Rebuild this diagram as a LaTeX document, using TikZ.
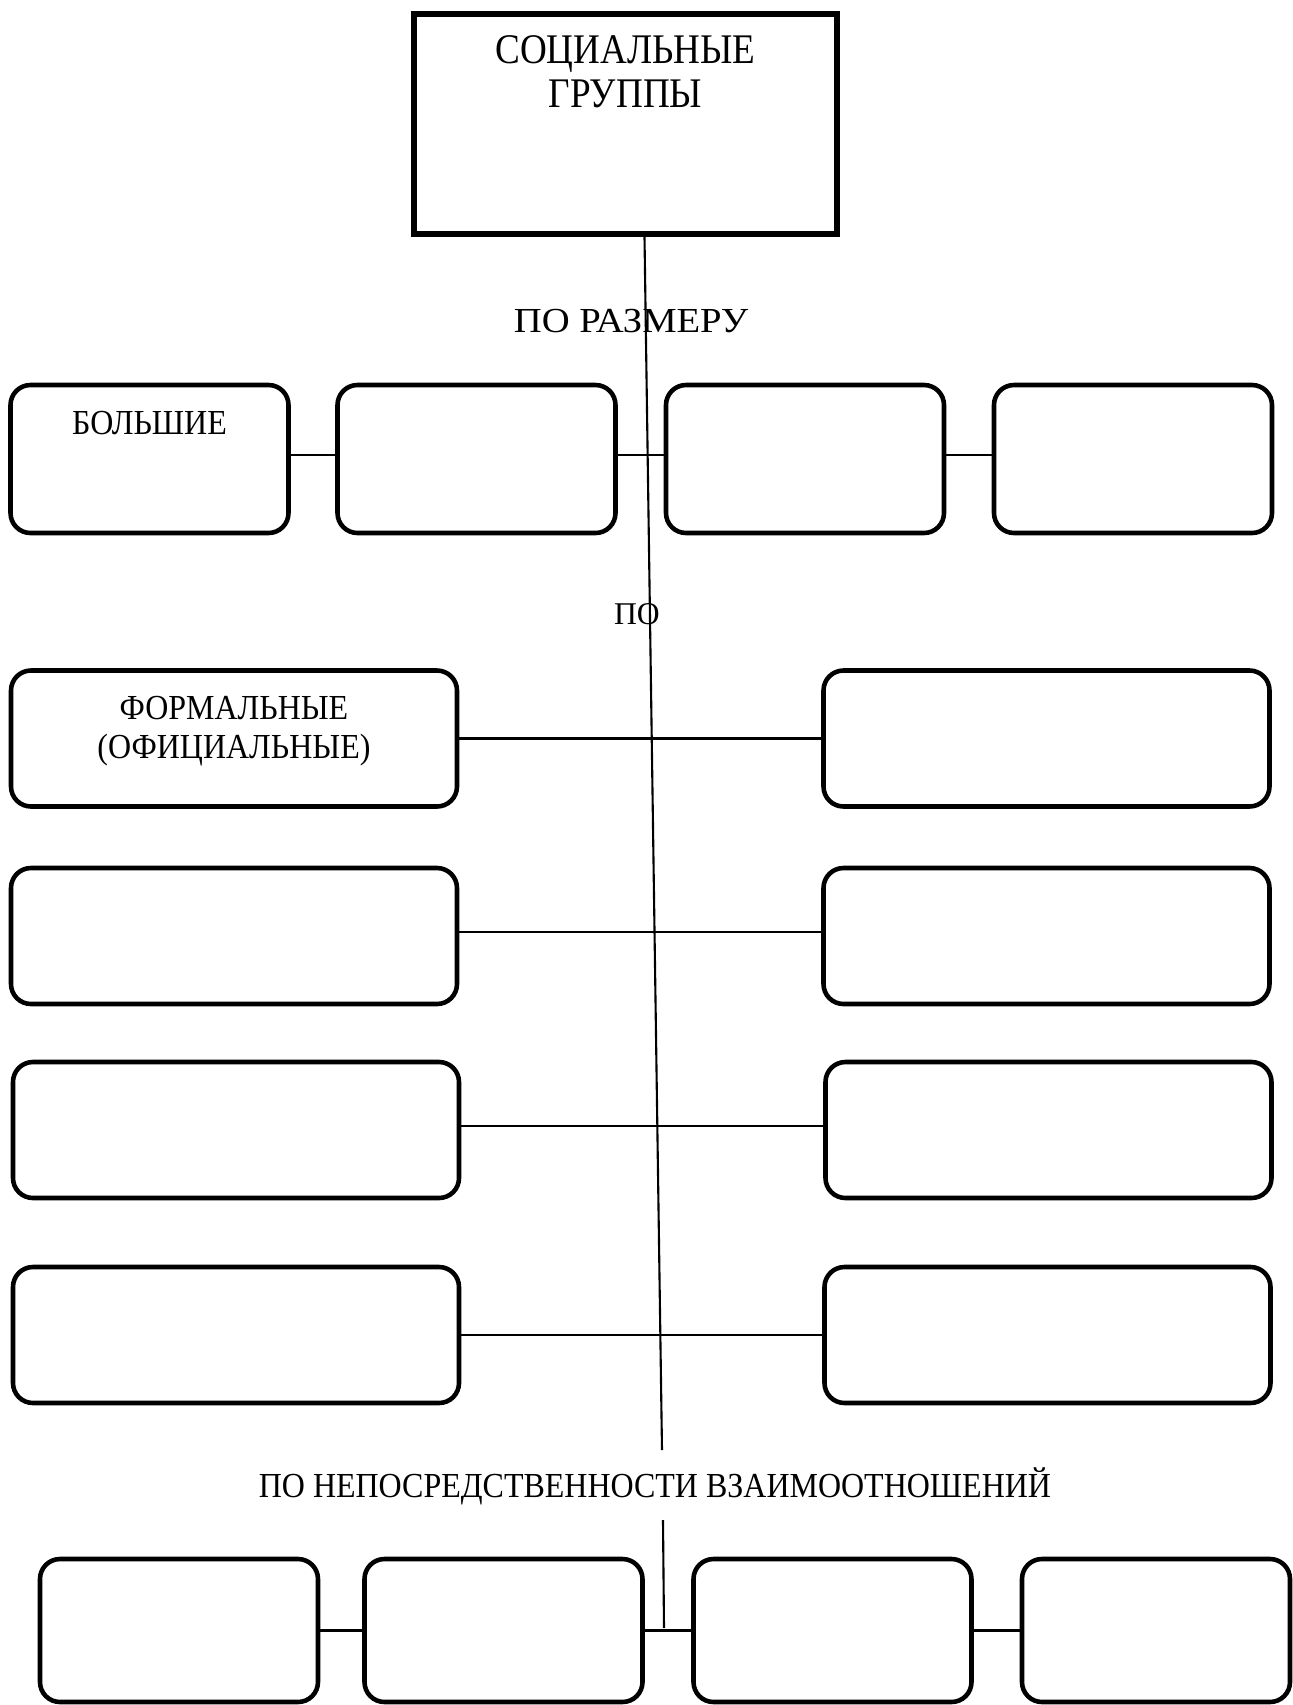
\documentclass[tikz,border=0pt]{standalone}
\usepackage{fontspec}
\setmainfont{Liberation Serif}
\newfontfamily\titlefont{Liberation Serif}[FakeStretch=0.88]
\newfontfamily\narrowfont{Liberation Serif}[FakeStretch=0.91]
\newfontfamily\widefont{Liberation Serif}[FakeStretch=1.1]
\tikzset{
  grp/.style={draw, line width=1.3pt, rounded corners=0.2cm, inner sep=0pt},
  sizebox/.style={grp, minimum width=2.78cm, minimum height=1.48cm},
  wide/.style={grp, minimum width=4.46cm, minimum height=1.36cm},
  lowbox/.style={grp, minimum width=2.78cm, minimum height=1.43cm},
  lbl/.style={inner sep=0pt, align=center, font=\narrowfont\fontsize{10}{11.1}\selectfont},
  link/.style={line width=0.6pt}
}
\begin{document}
\begin{tikzpicture}
        \useasboundingbox (0,0) rectangle (12.93,-17.05);

        \node[draw, line width=1.6pt, inner sep=0pt, minimum width=4.23cm, minimum height=2.2cm] (top) at (6.255,-1.24) {};
        \node[lbl, anchor=north, font=\titlefont\fontsize{12}{12.3}\selectfont] (title) at ([yshift=-0.24cm]top.north) {СОЦИАЛЬНЫЕ\\ГРУППЫ};

        \node[lbl, anchor=base, font=\widefont\fontsize{10}{10}\selectfont] (bysize) at (6.31,-3.32) {ПО РАЗМЕРУ};
        \node[lbl, anchor=base, font=\fontsize{9}{9}\selectfont] (byform) at (6.37,-6.24) {ПО};
        \node[lbl, anchor=base] (bydirect) at (6.55,-14.97) {ПО НЕПОСРЕДСТВЕННОСТИ ВЗАИМООТНОШЕНИЙ};

        % по размеру
        \node[sizebox] (big) at (1.495,-4.59) {};
        \node[lbl, anchor=north] (bigtext) at ([yshift=-0.28cm]big.north) {БОЛЬШИЕ};
        \node[sizebox] (size2) at (4.765,-4.59) {};
        \node[sizebox] (size3) at (8.05,-4.59) {};
        \node[sizebox] (size4) at (11.33,-4.59) {};
        \draw[link] ([yshift=0.04cm]big.east) -- ([yshift=0.04cm]size2.west);
        \draw[link] ([yshift=0.04cm]size2.east) -- ([yshift=0.04cm]size3.west);
        \draw[link] ([yshift=0.04cm]size3.east) -- ([yshift=0.04cm]size4.west);

        % пары
        \node[wide] (formal) at (2.34,-7.385) {};
        \node[lbl, anchor=north] (formaltext) at ([yshift=-0.27cm]formal.north) {ФОРМАЛЬНЫЕ\\(ОФИЦИАЛЬНЫЕ)};
        \node[wide] (pair1) at (10.465,-7.385) {};
        \node[wide] (left2) at (2.34,-9.36) {};
        \node[wide] (right2) at (10.465,-9.36) {};
        \node[wide] (left3) at (2.36,-11.30) {};
        \node[wide] (right3) at (10.485,-11.30) {};
        \node[wide] (left4) at (2.36,-13.35) {};
        \node[wide] (right4) at (10.475,-13.35) {};
        \draw[link] (formal) -- (pair1);
        \draw[link] ([yshift=0.04cm]left2.east) -- ([yshift=0.04cm]right2.west);
        \draw[link] ([yshift=0.04cm]left3.east) -- ([yshift=0.04cm]right3.west);
        \draw[link] (left4) -- (right4);

        % по непосредственности
        \node[lowbox] (direct1) at (1.79,-16.305) {};
        \node[lowbox] (direct2) at (5.035,-16.305) {};
        \node[lowbox] (direct3) at (8.325,-16.305) {};
        \node[lowbox, minimum width=2.68cm] (direct4) at (11.56,-16.305) {};
        \draw[link] (direct1) -- (direct2);
        \draw[link] (direct2) -- (direct3);
        \draw[link] (direct3) -- (direct4);

        \coordinate (trunkend) at (6.62,-14.50);
        \coordinate (trunkgo) at (6.63,-15.20);
        \coordinate (trunkjoin) at (6.64,-16.28);
        \draw[link] ([xshift=0.19cm]top.south) -- (trunkend);
        \draw[link] (trunkgo) -- (trunkjoin);
      \end{tikzpicture}
\end{document}
